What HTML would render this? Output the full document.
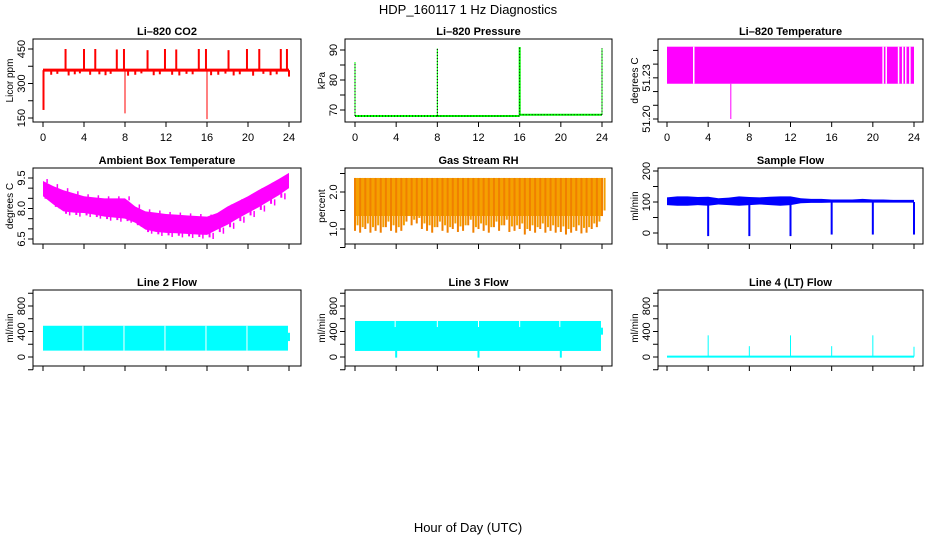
<!DOCTYPE html>
<html><head><meta charset="utf-8"><style>
html,body{margin:0;padding:0;background:#fff;}
svg{display:block;font-family:"Liberation Sans",sans-serif;}
</style></head><body>
<svg id="c" width="936" height="540" viewBox="0 0 936 540">
<text x="468" y="14" text-anchor="middle" font-size="13">HDP_160117  1 Hz Diagnostics</text>
<text x="468" y="532" text-anchor="middle" font-size="13">Hour of Day (UTC)</text>
</svg>
<script>
const hours = [0,1,2,3,4,5,6,7,8,9,10,11,12,13,14,15,16,17,18,19,20,21,22,23,24];
const xTicks = [0,4,8,12,16,20,24];
// CO2
const co2Base = 358;
const co2SpikeHours = [2.2,4.0,5.1,7.2,7.9,10.2,11.9,13.0,15.2,15.9,18.1,19.9,21.1,23.2,23.8];
const co2SpikeVals = [450,450,450,448,450,445,450,448,450,450,445,450,450,450,450];
const co2DownHours = [0.05,8.0,16.0];
const co2DownVals = [185,170,145];
const co2DipHours = [0.8,1.4,2.5,3.1,3.6,4.6,5.5,6.1,6.6,8.3,9.0,9.6,10.8,11.4,12.6,13.3,14.0,14.6,16.4,17.1,17.8,18.6,19.2,20.5,21.5,22.2,22.8,24.0];
const co2DipVals = [338,342,335,340,344,338,340,336,342,334,338,344,336,340,338,335,342,340,336,338,343,335,340,334,342,336,340,330];
// Pressure
const presHours = [0,8,16,24];
const presBase = [68.0,68.0,68.4,68.4];
const presSpikes = [86,90.5,91,90.6];
// Li-820 temperature
const tempTop = 51.2527, tempBot = 51.2257;
const tempGapHours = [2.6,21.0,21.3,22.5,22.9,23.2,23.6];
const tempDropHour = 6.2, tempDropVal = 51.20;
// Ambient box temperature (hourly envelopes)
const ambHigh = [9.35,9.1,8.9,8.75,8.6,8.55,8.5,8.5,8.5,8.1,7.86,7.8,7.73,7.7,7.66,7.63,7.6,7.78,8.1,8.35,8.6,8.9,9.17,9.45,9.75];
const ambLow  = [8.6,8.2,7.86,7.8,7.78,7.7,7.6,7.55,7.5,7.3,6.96,6.85,6.8,6.78,6.75,6.72,6.7,6.96,7.2,7.5,7.78,8.05,8.35,8.65,9.0];
// Gas stream RH (half-hourly lower envelope)
const rhTop = 2.38;
const rhLow = [0.95,0.9,1.0,0.9,0.95,0.9,1.05,0.95,0.9,0.95,1.2,1.1,1.15,1.0,0.95,0.9,1.05,0.95,0.9,1.0,0.92,0.95,1.1,0.9,1.0,0.95,0.9,1.05,0.95,1.1,0.92,0.95,1.0,0.85,0.95,0.9,1.0,0.9,0.95,0.9,0.92,0.85,0.9,0.95,0.88,0.9,1.0,1.05,1.35];
// Sample flow
const sfHigh = [115,118,118,116,117,112,114,118,116,115,117,118,118,112,110,110,108,108,108,110,108,108,107,107,107];
const sfLow  = [90,88,88,90,88,92,90,88,90,92,90,88,90,96,97,97,98,98,98,98,98,98,98,98,98];
const sfDipHours = [4,8,12,16,20,24];
const sfDipVals = [-10,-10,-10,-5,-5,-5];
// Line flows
const l2Top = 490, l2Bot = 100;
const l2GapHours = [3.9,7.9,11.9,15.9,19.9];
const l3Top = 565, l3Bot = 95;
const l3GapHours = [3.9,8.0,12.0,16.0,19.9];
const l3DipHours = [4.0,12.0,20.0];
const l3DipVals = [-10,-10,-10];
const l4SpikeHours = [4,8,12,16,20,24];
const l4SpikeVals = [340,170,340,170,340,160];

const NS="http://www.w3.org/2000/svg";
const svg=document.getElementById('c');
function mk(tag,attrs,parent){const e=document.createElementNS(NS,tag);for(const k in attrs)e.setAttribute(k,attrs[k]);(parent||svg).appendChild(e);return e;}

const cols=[{bx0:33,bx1:301,x0:43,x1:289},{bx0:345,bx1:612,x0:355,x1:602},{bx0:658,bx1:923,x0:667,x1:914}];
const rows=[{by0:39,by1:122},{by0:168,by1:244},{by0:290,by1:366}];

function panel(name,title,ci,ri,ylab,yA,pA,yB,pB,yTicks,yLabels,drawFn){
  const c=cols[ci],r=rows[ri];
  const g=mk('g',{});
  
  
  const X=h=>c.x0+(h/24)*(c.x1-c.x0);
  const Y=v=>pA+(v-yA)/(yB-yA)*(pB-pA);
  const t=mk('text',{x:(c.bx0+c.bx1)/2,y:r.by0-4,'text-anchor':'middle','font-size':11,'font-weight':'bold'},g);
  t.textContent=title;
  
  
  const plot=mk('g',{},g);
  
  
  drawFn(plot,X,Y);
  const box=mk('rect',{x:c.bx0,y:r.by0,width:c.bx1-c.bx0,height:r.by1-r.by0,fill:'none',stroke:'#000','stroke-width':1},g);
  
  
  const xa=mk('g',{},g);
  
  
  mk('line',{x1:X(0),x2:X(24),y1:r.by1,y2:r.by1,stroke:'#000'},xa);
  xTicks.forEach(h=>{
    mk('line',{x1:X(h),x2:X(h),y1:r.by1,y2:r.by1+5,stroke:'#000'},xa);
    if(ri===0){const tl=mk('text',{x:X(h),y:r.by1+19,'text-anchor':'middle','font-size':11},xa);tl.textContent=h;}
  });
  const ya=mk('g',{},g);
  
  
  mk('line',{x1:c.bx0,x2:c.bx0,y1:Y(yTicks[0]),y2:Y(yTicks[yTicks.length-1]),stroke:'#000'},ya);
  yTicks.forEach((v,i)=>{
    mk('line',{x1:c.bx0-5,x2:c.bx0,y1:Y(v),y2:Y(v),stroke:'#000'},ya);
    if(yLabels[i]!==''){const yy=Y(v);const tl=mk('text',{x:c.bx0-8,y:yy,'text-anchor':'middle','font-size':11,transform:`rotate(-90 ${c.bx0-8} ${yy})`},ya);tl.textContent=yLabels[i];}
  });
  const ym=(r.by0+r.by1)/2;
  const yt=mk('text',{x:c.bx0-20,y:ym,'text-anchor':'middle','font-size':10,transform:`rotate(-90 ${c.bx0-20} ${ym})`},ya);
  yt.textContent=ylab;
  
  
}
function vline(p,x,y1,y2,col,w){return mk('line',{x1:x,x2:x,y1:y1,y2:y2,stroke:col,'stroke-width':w||1},p);}

panel('co2-panel','Li\u2013820 CO2',0,0,'Licor ppm',150,118,450,49,[150,225,300,375,450],['150','','300','','450'],(p,X,Y)=>{
  co2DipHours.forEach((h,i)=>vline(p,X(h),Y(co2Base),Y(co2DipVals[i]),'#f00',2));
  co2SpikeHours.forEach((h,i)=>vline(p,X(h),Y(co2Base),Y(co2SpikeVals[i]),'#f00',2));
  co2DownHours.forEach((h,i)=>vline(p,X(h),Y(co2Base),Y(co2DownVals[i]),'#f00',i===0?2:1));
  mk('line',{x1:X(0),x2:X(24),y1:Y(co2Base),y2:Y(co2Base),stroke:'#f00','stroke-width':3},p);
});
panel('pressure-panel','Li\u2013820 Pressure',1,0,'kPa',70,110,90,50,[70,75,80,85,90],['70','','80','','90'],(p,X,Y)=>{
  for(let i=0;i<presHours.length-1;i++){
    mk('line',{x1:X(presHours[i]),x2:X(presHours[i+1]),y1:Y(presBase[i]),y2:Y(presBase[i]),stroke:'#0f0','stroke-width':2},p);
    mk('line',{x1:X(presHours[i]),x2:X(presHours[i+1]),y1:Y(presBase[i]),y2:Y(presBase[i]),stroke:'#000','stroke-width':1,'stroke-dasharray':'1 2'},p);
  }
  presHours.forEach((h,i)=>{vline(p,X(h),Y(presBase[Math.min(i,presBase.length-1)]),Y(presSpikes[i]),'#0f0',i===2?2:1);vline(p,X(h),Y(presBase[Math.min(i,presBase.length-1)]),Y(presSpikes[i]),'#000',1).setAttribute('stroke-dasharray','1 2');});
});
panel('li820-temp-panel','Li\u2013820 Temperature',2,0,'degrees C',51.20,119,51.25,50.4,[51.20,51.21,51.22,51.23,51.24,51.25],['51.20','','','51.23','',''],(p,X,Y)=>{
  mk('rect',{x:X(0),y:Y(tempTop),width:X(24)-X(0),height:Y(tempBot)-Y(tempTop),fill:'#f0f'},p);
  tempGapHours.forEach(h=>vline(p,X(h),Y(tempTop),Y(tempBot),'#fff',1.5));
  vline(p,X(tempDropHour),Y(tempBot),Y(tempDropVal),'#f0f',1);
});
panel('ambient-temp-panel','Ambient Box Temperature',0,1,'degrees C',6.5,239,9.5,178,[6.5,7.0,7.5,8.0,8.5,9.0,9.5],['6.5','','','8.0','','','9.5'],(p,X,Y)=>{
  let d='M'+X(0)+','+Y(ambHigh[0]);
  hours.forEach((h,i)=>d+=' L'+X(h)+','+Y(ambHigh[i]));
  for(let i=hours.length-1;i>=0;i--)d+=' L'+X(hours[i])+','+Y(ambLow[i]);
  mk('path',{d:d+'Z',fill:'#f0f'},p);
  for(let i=0;i<hours.length-1;i++){
    vline(p,X(hours[i]+0.25),Y(ambLow[i]+0.1),Y(ambLow[i]-0.12),'#f0f',2);
    vline(p,X(hours[i]+0.6),Y(ambLow[i]+0.1),Y(ambLow[i]-0.2),'#f0f',1.5);
    vline(p,X(hours[i]+0.4),Y(ambHigh[i]-0.1),Y(ambHigh[i]+0.1),'#f0f',1.5);
  }
});
panel('rh-panel','Gas Stream RH',1,1,'percent',1.0,229,2.0,192,[0.5,1.0,1.5,2.0,2.5],['','1.0','','2.0',''],(p,X,Y)=>{
  const n=rhLow.length-1;
  let d='M'+X(0)+','+Y(rhTop);
  d+=' L'+X(24)+','+Y(rhTop);
  for(let i=n;i>=0;i--){const h=i*24/n;d+=' L'+X(h)+','+Y(Math.max(rhLow[i],1.35));}
  mk('path',{d:d+'Z',fill:'#f5a000'},p);
  rhLow.forEach((v,i)=>{vline(p,X(i*24/n),Y(rhTop),Y(v),'#f08000',2);vline(p,X((i+0.5)*24/n),Y(rhTop),Y(v+0.15),'#f5a000',2);});
});
panel('sample-flow-panel','Sample Flow',2,1,'ml/min',0,233,200,171,[0,50,100,150,200],['0','','100','','200'],(p,X,Y)=>{
  let d='M'+X(0)+','+Y(sfHigh[0]);
  hours.forEach((h,i)=>d+=' L'+X(h)+','+Y(sfHigh[i]));
  for(let i=hours.length-1;i>=0;i--)d+=' L'+X(hours[i])+','+Y(sfLow[i]);
  mk('path',{d:d+'Z',fill:'#00f'},p);
  sfDipHours.forEach((h,i)=>vline(p,X(h),Y(100),Y(sfDipVals[i]),'#00f',2));
});
panel('line2-flow-panel','Line 2 Flow',0,2,'ml/min',0,357,800,306,[-200,0,200,400,600,800,1000],['','0','','400','','800',''],(p,X,Y)=>{
  mk('rect',{x:X(0),y:Y(l2Top),width:X(23.9)-X(0),height:Y(l2Bot)-Y(l2Top),fill:'#0ff'},p);
  mk('rect',{x:X(23.9),y:Y(380),width:2,height:Y(250)-Y(380),fill:'#0ff'},p);
  l2GapHours.forEach(h=>vline(p,X(h),Y(l2Top),Y(l2Bot),'#fff',1));
});
panel('line3-flow-panel','Line 3 Flow',1,2,'ml/min',0,357,800,306,[-200,0,200,400,600,800,1000],['','0','','400','','800',''],(p,X,Y)=>{
  mk('rect',{x:X(0),y:Y(l3Top),width:X(23.9)-X(0),height:Y(l3Bot)-Y(l3Top),fill:'#0ff'},p);
  mk('rect',{x:X(23.9),y:Y(460),width:2,height:Y(350)-Y(460),fill:'#0ff'},p);
  l3GapHours.forEach(h=>vline(p,X(h),Y(l3Top),Y(470),'#fff',1));
  l3DipHours.forEach((h,i)=>vline(p,X(h),Y(l3Bot),Y(l3DipVals[i]),'#0ff',2));
});
panel('line4-flow-panel','Line 4 (LT) Flow',2,2,'ml/min',0,357,800,306,[-200,0,200,400,600,800,1000],['','0','','400','','800',''],(p,X,Y)=>{
  mk('line',{x1:X(0),x2:X(24),y1:Y(5),y2:Y(5),stroke:'#0ff','stroke-width':2},p);
  l4SpikeHours.forEach((h,i)=>vline(p,X(h),Y(5),Y(l4SpikeVals[i]),'#0ff',1));
});
</script>
</body></html>
